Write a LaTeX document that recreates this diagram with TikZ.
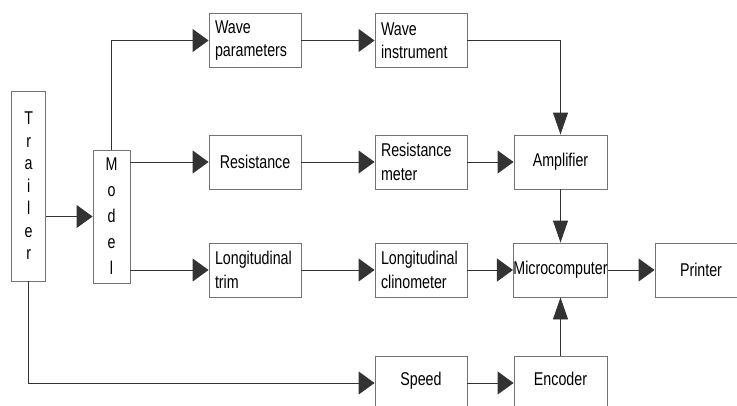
\documentclass[tikz,border=0pt]{standalone}
\usepackage{fontspec}
\setmainfont{Liberation Sans}[FakeStretch=0.77]
\usetikzlibrary{arrows.meta}
\begin{document}
\begin{tikzpicture}[x=1pt,y=-1pt,
  box/.style={draw=black!55, line width=0.9pt, minimum width=92pt, minimum height=54pt,
    inner sep=0pt, font=\fontsize{18.5}{23.5}\selectfont},
  lbox/.style={box, text width=80pt, align=left},
  vbox/.style={draw=black!55, line width=0.9pt, inner sep=0pt, align=center},
  lowtext/.style={text height=13.2pt, text depth=9.2pt},
  conn/.style={draw=black!80, line width=0.9pt},
  harr/.style={conn, -{Triangle[length=16pt,width=23pt]}},
  varr/.style={conn, -{Triangle[length=22pt,width=15pt]}}]
\useasboundingbox (0,0) rectangle (737,405);
\clip (0,0) rectangle (737,405);

% vertical boxes
\node[vbox, minimum width=34pt, minimum height=190pt, font=\fontsize{18.5}{22.5}\selectfont]
  (Trailer) at (28.7,186) {T\\r\\a\\i\\l\\e\\r};
\node[vbox, minimum width=37pt, minimum height=133pt, font=\fontsize{18.5}{26}\selectfont]
  (Model) at (111.5,216.5) {M\\o\\d\\e\\l};

% column 1
\node[lbox] (WaveP) at (255,40.5) {Wave\\parameters};
\node[box]  (Res)   at (255,162) {Resistance};
\node[lbox] (Trim)  at (255,270) {Longitudinal\\trim};

% column 2
\node[lbox] (WaveI) at (421,40.5) {Wave\\instrument};
\node[lbox] (ResM)  at (421,162) {Resistance\\meter};
\node[lbox] (Clino) at (421,270) {Longitudinal\\clinometer};
\node[box, lowtext] (Speed) at (421,383) {Speed};

% column 3
\node[box, minimum width=93pt] (Amp)   at (560.5,162) {Amplifier};
\node[box, minimum width=93pt] (Micro) at (560.5,270) {Microcomputer};
\node[box, minimum width=93pt, lowtext] (Enc) at (560.5,383) {Encoder};

% printer
\node[box] (Printer) at (701,270) {Printer};

% connectors
\draw[harr] (Trailer.east |- Model.west) -- (Model.west);
\draw[harr] (Trailer.south) |- (Speed.west);
\draw[harr] (Model.north) |- (WaveP.west);
\draw[harr] (Model.east |- Res.west) -- (Res.west);
\draw[harr] (Model.east |- Trim.west) -- (Trim.west);

\draw[harr] (WaveP.east) -- (WaveI.west);
\draw[harr] (Res.east) -- (ResM.west);
\draw[harr] (Trim.east) -- (Clino.west);
\draw[harr] (Speed.east) -- (Enc.west);

\draw[varr] (WaveI.east) -| (Amp.north);
\draw[harr] (ResM.east) -- (Amp.west);
\draw[varr] (Amp.south) -- (Micro.north);
\draw[harr] (Clino.east) -- (Micro.west);
\draw[varr] (Enc.north) -- (Micro.south);
\draw[harr] (Micro.east) -- (Printer.west);
\end{tikzpicture}
\end{document}
